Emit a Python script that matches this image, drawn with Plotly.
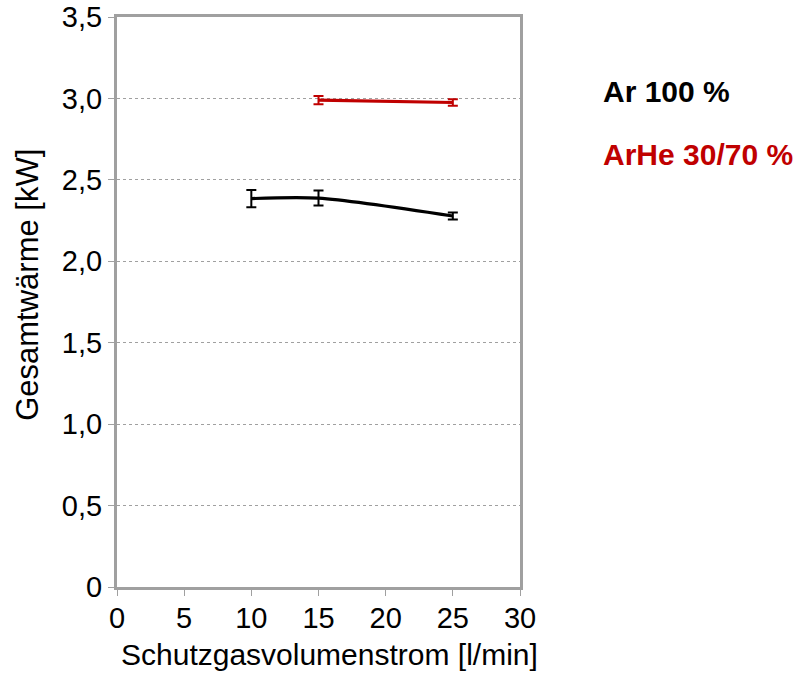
import plotly.graph_objects as go

# Gesamtwärme in Abhängigkeit vom Schutzgasvolumenstrom
ar_flow = [10, 15, 25]
ar_heat = [2.385, 2.388, 2.278]
ar_err = [0.053, 0.046, 0.022]

arhe_flow = [15, 25]
arhe_heat = [2.99, 2.975]
arhe_err = [0.025, 0.02]

y_ticks = [0, 0.5, 1.0, 1.5, 2.0, 2.5, 3.0, 3.5]
y_labels = ["0", "0,5", "1,0", "1,5", "2,0", "2,5", "3,0", "3,5"]
x_ticks = [0, 5, 10, 15, 20, 25, 30]

FONT = "Liberation Sans, Arial, sans-serif"
RED = "#c00000"
FRAME = "#a0a0a0"

fig = go.Figure()
fig.add_trace(go.Scatter(
    x=ar_flow, y=ar_heat, mode="lines", name="Ar 100 %",
    line=dict(color="black", width=3.2, shape="spline", smoothing=0.8),
    error_y=dict(type="data", array=ar_err, visible=True, color="black",
                 thickness=2, width=5),
))
fig.add_trace(go.Scatter(
    x=arhe_flow, y=arhe_heat, mode="lines", name="ArHe 30/70 %",
    line=dict(color=RED, width=3.2),
    error_y=dict(type="data", array=arhe_err, visible=True, color=RED,
                 thickness=2, width=5),
))

# Legend entries as plain coloured labels
fig.add_annotation(text="<b>Ar 100 %</b>", xref="paper", yref="paper",
                   x=1.2, y=0.869, xanchor="left", yanchor="middle",
                   showarrow=False, font=dict(family=FONT, size=30, color="black"))
fig.add_annotation(text="<b>ArHe 30/70 %</b>", xref="paper", yref="paper",
                   x=1.2, y=0.759, xanchor="left", yanchor="middle",
                   showarrow=False, font=dict(family=FONT, size=30, color=RED))

# Axis titles
fig.add_annotation(text="Schutzgasvolumenstrom [l/min]", xref="paper", yref="paper",
                   x=0.527, y=-0.118, xanchor="center", yanchor="middle",
                   showarrow=False, font=dict(family=FONT, size=30, color="black"))
fig.add_annotation(text="Gesamtwärme [kW]", xref="paper", yref="paper",
                   x=-0.221, y=0.53, xanchor="center", yanchor="middle",
                   textangle=-90, showarrow=False,
                   font=dict(family=FONT, size=31, color="black"))

fig.update_layout(
    width=798, height=678,
    margin=dict(l=117, r=278, t=17, b=91),
    plot_bgcolor="white", paper_bgcolor="white",
    showlegend=False,
    font=dict(family=FONT, size=29, color="black"),
    xaxis=dict(
        range=[0, 30], tickvals=x_ticks, showgrid=False, zeroline=False,
        showline=True, linecolor=FRAME, linewidth=3, mirror=True,
        ticks="outside", ticklen=6, tickcolor=FRAME, tickwidth=1,
        tickfont=dict(size=29), automargin=False, ticklabelstandoff=-3,
    ),
    yaxis=dict(
        range=[0, 3.5], tickvals=y_ticks, ticktext=y_labels,
        showgrid=True, gridcolor="#a0a0a0", gridwidth=1, griddash="dot",
        zeroline=False,
        showline=True, linecolor=FRAME, linewidth=3, mirror=True,
        ticks="outside", ticklen=6, tickcolor=FRAME, tickwidth=1,
        tickfont=dict(size=29), automargin=False,
    ),
)

fig.write_html("out.html")
